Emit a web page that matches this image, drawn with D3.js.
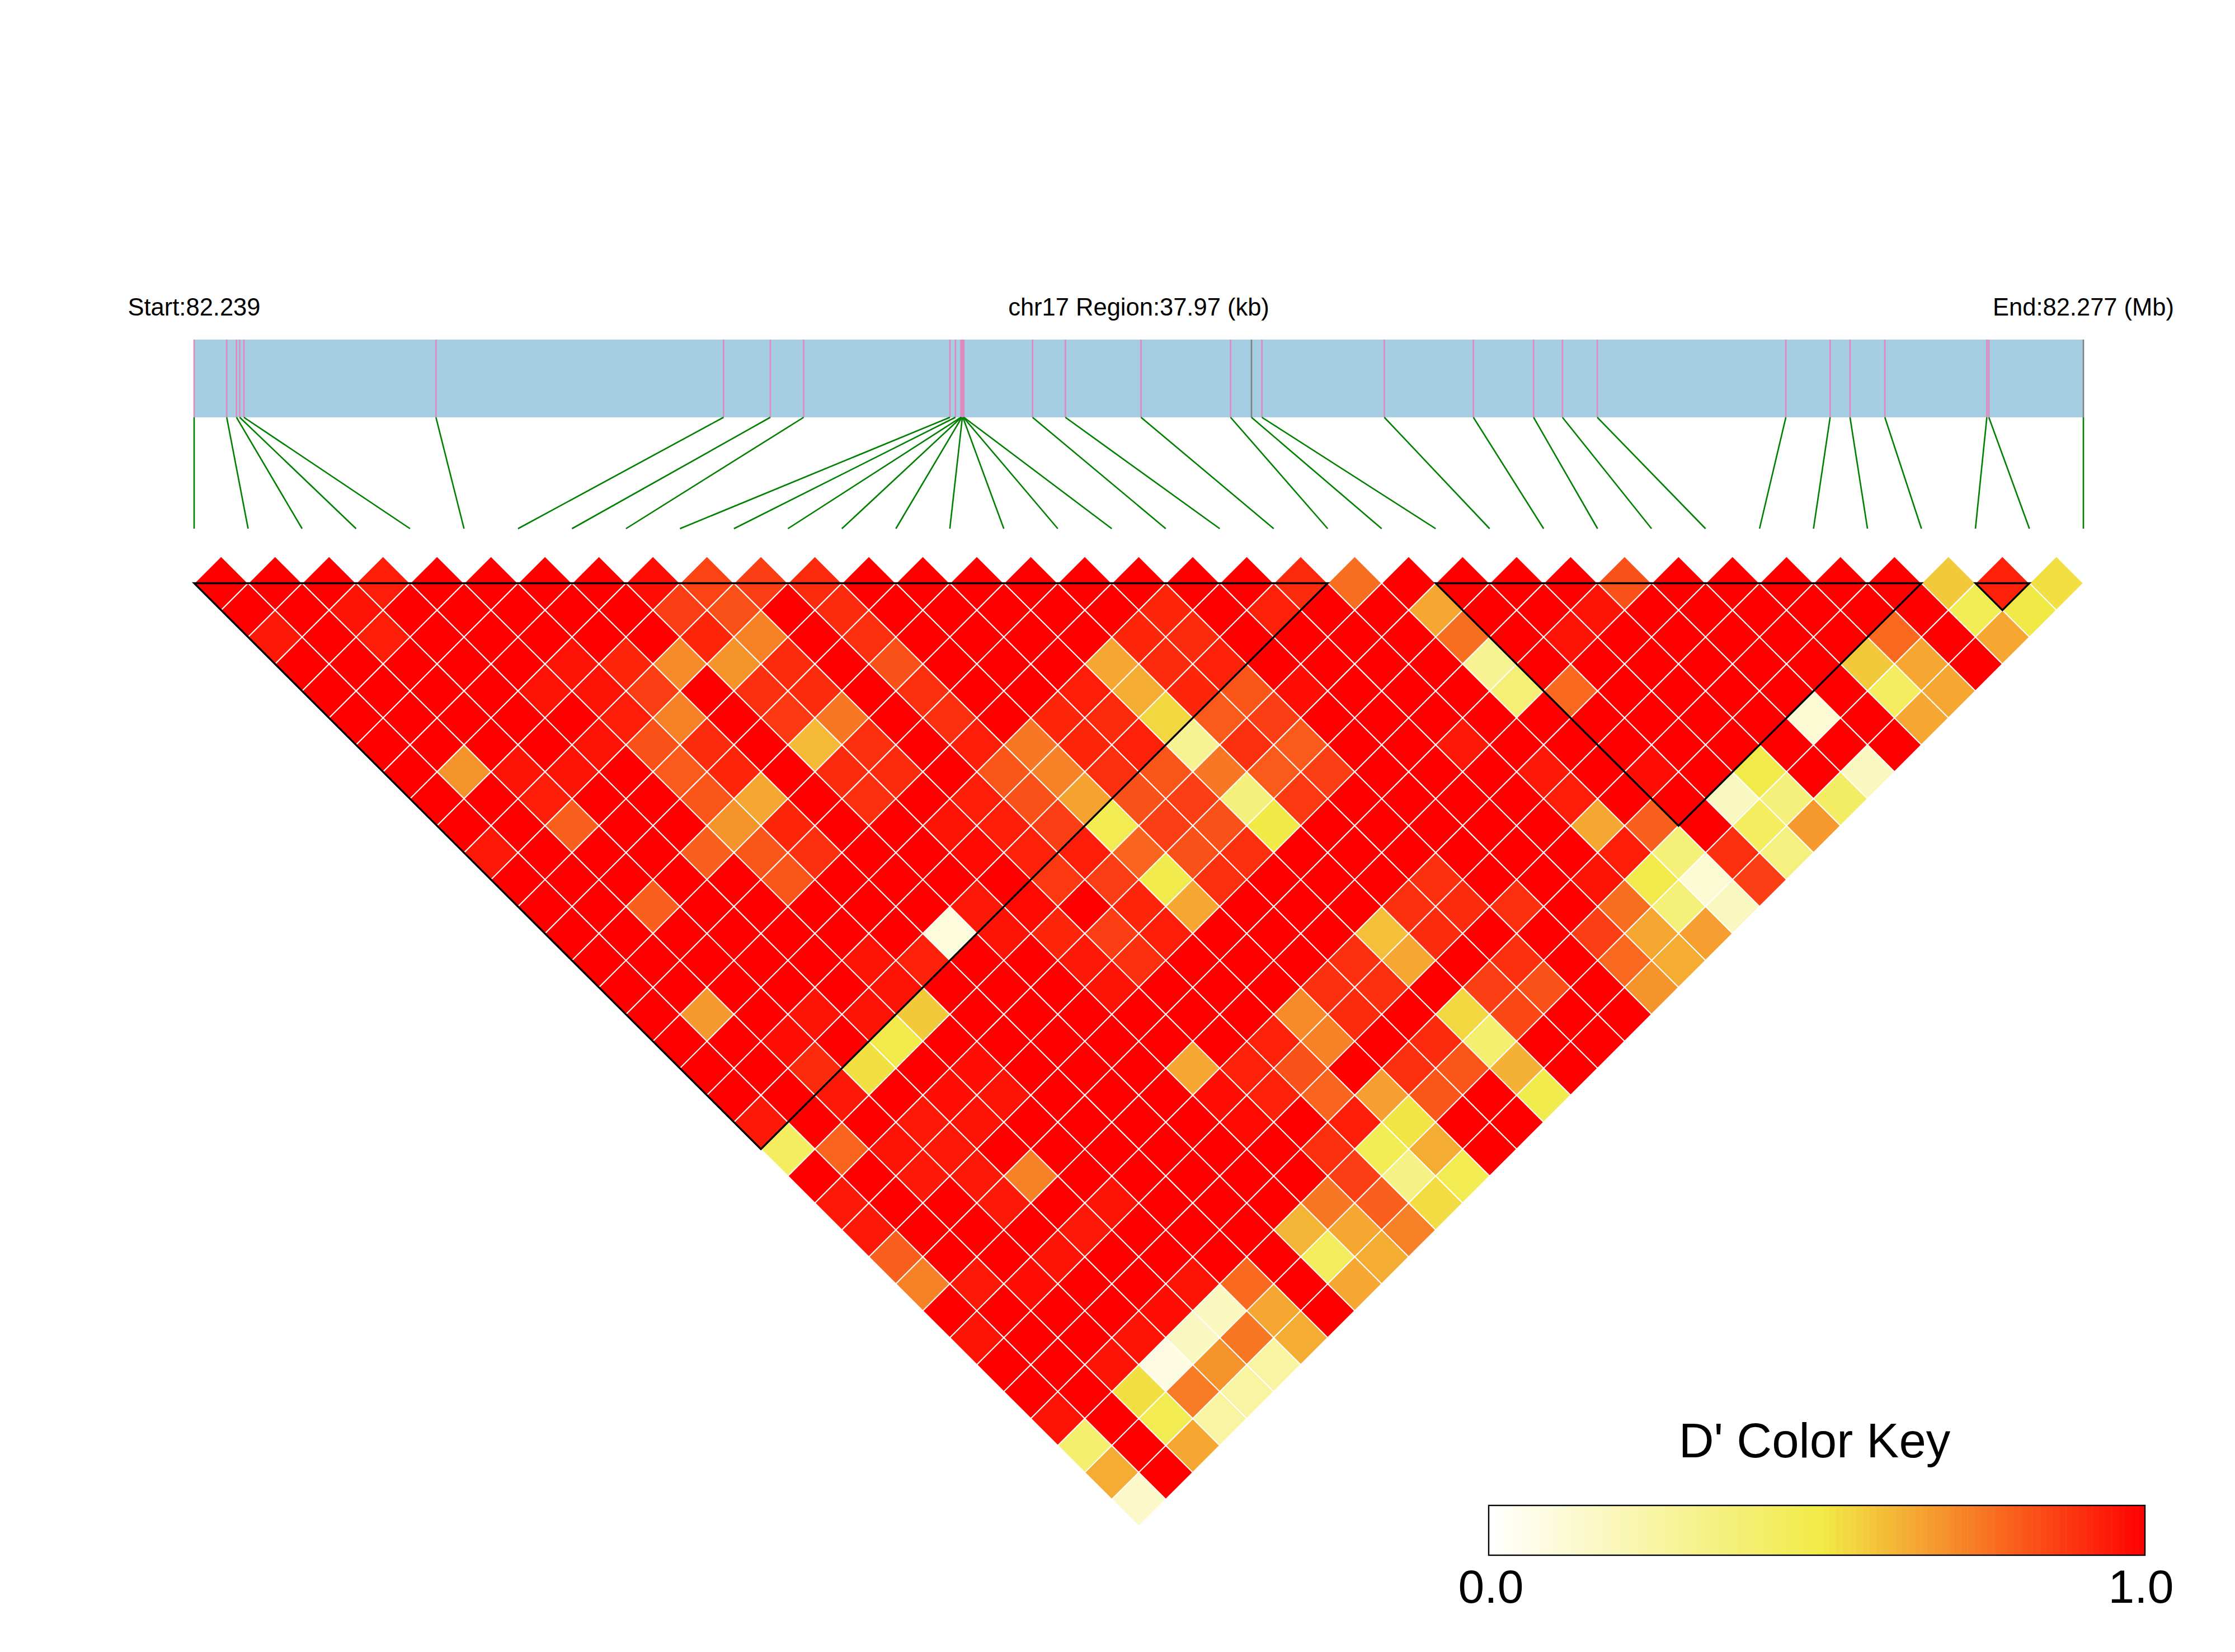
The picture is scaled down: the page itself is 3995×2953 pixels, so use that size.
<!DOCTYPE html>
<html>
<head>
<meta charset="utf-8">
<script src="https://cdn.jsdelivr.net/npm/d3@7"></script>
<style>
    html, body { margin: 0; padding: 0; background: #fff; }
    svg { display: block; }
    text { font-family: "Liberation Sans", Arial, sans-serif; fill: #000; }
</style>
</head>
<body>
<div id="chart"></div>
<script>
const startLabel = 'Start:82.239';
const regionLabel = 'chr17 Region:37.97 (kb)';
const endLabel = 'End:82.277 (Mb)';
const keyTitle = "D' Color Key";
const keyTicks = ['0.0', '1.0'];

// SNP positions in kb from the region start
const snpPos = [0, 0.655, 0.851, 0.916, 1.0, 4.86, 10.64, 11.58, 12.25,
    15.19, 15.30, 15.41, 15.42, 15.43, 15.44, 15.45, 15.46, 15.47,
    16.85, 17.51, 19.03, 20.83, 21.25, 21.46, 23.92, 25.71, 26.92, 27.50,
    28.20, 31.99, 32.88, 33.28, 33.98, 36.03, 36.07, 37.97];
// these two are drawn grey on the gene bar, the rest pink
const greySnps = [22, 35];

// LD blocks as first and last SNP index
const blocks = [[0, 21], [23, 32], [33, 34]];

// D' values: dPrime[d][i] is the pair of SNP i and SNP i + d + 1
const dPrime = [
    [1,1,1,.94,1,1,1,1,.97,.86,.87,.91,1,1,1,1,1,1,1,1,.91,.77,1,1,1,1,.83,1,1,1,1,1,.58,.93,.53],
    [1,1,.96,1,1,1,1,1,.87,.83,1,.91,1,1,1,1,1,.92,1,.93,1,1,.65,1,1,.96,1,1,1,1,1,1,.47,.51],
    [.95,1,.94,1,1,1,1,1,.92,.73,1,.9,1,1,1,1,.92,.91,1,1,1,1,.77,1,.96,1,1,1,1,1,.78,1,.65],
    [1,1,1,1,1,.96,.92,.71,.69,.91,1,.83,1,1,1,.65,.91,.93,1,1,1,1,.3,1,1,1,1,1,1,.58,.65,1],
    [1,1,1,1,.96,.96,.87,1,.9,.91,1,.9,1,1,.94,.64,.92,.82,.97,1,1,1,.38,.78,1,1,1,1,1,.44,.65],
    [1,1,1,1,1,.94,.73,1,.88,.75,1,.9,1,.92,.91,.55,.81,.87,1,1,1,1,1,1,1,1,1,.12,1,.65],
    [1,1,1,1,.96,.83,.91,1,.61,.9,1,.94,.75,.92,.93,.3,.9,.81,1,1,.95,1,1,1,1,1,1,1,1],
    [1,.69,.96,.96,1,.81,.92,1,.91,.91,1,.82,.73,.9,.82,.75,.81,.87,1,1,1,.95,1,.97,1,.5,1,.17],
    [1,1,.94,1,1,.82,.65,1,.9,1,.94,.83,.66,.83,.87,.36,.88,1,1,1,1,.94,1,1,.17,.36,.43],
    [1,1,.8,1,1,.69,.92,1,1,.96,.94,.87,.48,.87,.83,.51,1,1,1,1,1,.65,.8,1,.44,.68],
    [.95,1,1,1,.8,.82,.9,1,1,.98,.93,.94,.79,.83,.9,1,1,1,1,1,1,.94,.37,.9,.35],
    [1,1,1,1,1,.82,1,1,1,1,.88,.87,.49,.9,1,1,1,.9,1,1,.96,.5,.12,.87],
    [1,1,.8,1,1,1,1,1,.95,.98,1,.92,.65,1,1,1,.9,.91,.9,1,.77,.37,.17],
    [1,1,1,1,1,1,1,.1,.96,.92,.87,.94,1,1,1,.6,.91,1,1,.87,.65,.67],
    [1,1,1,1,1,.96,.93,1,1,.95,.9,1,1,1,.9,.65,1,.9,1,.78,.64],
    [1,1,1,1,1,.96,1,1,1,.96,1,1,1,.9,.9,1,.87,.83,1,.69],
    [1,.68,1,.96,.96,.58,1,1,1,1,1,1,.71,.91,1,.55,.85,1,1],
    [1,1,.97,1,.5,1,1,1,1,1,1,.93,.73,1,.91,.4,1,1],
    [1,1,.91,.53,1,.97,1,1,1,.65,.93,.83,1,.9,.82,.63,1],
    [1,1,.95,1,.97,.96,1,1,1,.97,.93,.79,.67,.82,1,.49],
    [.95,1,1,.95,.96,1,1,1,1,.98,1,.94,.52,1,1],
    [.44,.79,.96,.95,1,1,1,1,1,1,.9,.47,.64,1],
    [1,1,.95,.95,.73,1,1,1,1,1,.87,.34,.48],
    [.95,1,1,.95,1,.96,1,1,1,.75,.8,.54],
    [.95,1,1,1,.95,1,1,1,.62,.65,.73],
    [.8,1,1,.96,1,1,1,1,.45,.64],
    [.73,.95,.97,1,1,.96,.78,1,.65],
    [1,1,1,1,.97,.18,.65,1],
    [.96,1,1,.96,.17,.75,.64],
    [1,1,.96,.08,.69,.26],
    [1,1,.53,.74,.26],
    [.96,1,.48,.26],
    [.4,1,.65],
    [.64,1],
    [.15]
];

const width = 3995;
const height = 2953;
const nSnp = snpPos.length;

const posScale = d3.scaleLinear().domain([0, 37.97]).range([347, 3724]);
const indexScale = d3.scaleLinear().domain([0, nSnp - 1]).range([347, 3724]);
const rowScale = d3.scaleLinear().domain([0, nSnp - 1]).range([1042.5, 2728.5]);
const colorScale = d3.scaleLinear()
    .domain([0, 0.51, 1])
    .range(['#ffffff', '#f1ea46', '#ff0000']);

const barTop = 607;
const barBottom = 746;
const linkBottom = 945;

const svg = d3.select('#chart')
    .append('svg')
    .attr('width', width)
    .attr('height', height);

// Header labels
svg.selectAll('text.head')
    .data([
        { label: startLabel, x: posScale(0) },
        { label: regionLabel, x: posScale(37.97 / 2) },
        { label: endLabel, x: posScale(37.97) }
    ])
    .join('text')
    .attr('class', 'head')
    .attr('x', d => d.x)
    .attr('y', 564)
    .attr('text-anchor', 'middle')
    .attr('font-size', 43.5)
    .text(d => d.label);

// Gene bar with SNP ticks
svg.append('rect')
    .attr('x', posScale(0))
    .attr('y', barTop)
    .attr('width', posScale(37.97) - posScale(0))
    .attr('height', barBottom - barTop)
    .attr('fill', '#a6cee3');

svg.append('g')
    .selectAll('line')
    .data(snpPos)
    .join('line')
    .attr('x1', d => posScale(d))
    .attr('x2', d => posScale(d))
    .attr('y1', barTop)
    .attr('y2', barBottom)
    .attr('stroke', (d, i) => greySnps.includes(i) ? '#808080' : '#e088c0')
    .attr('stroke-width', 2.6);

// Links from the bar to the heatmap
svg.append('g')
    .selectAll('line')
    .data(snpPos)
    .join('line')
    .attr('x1', d => posScale(d))
    .attr('x2', (d, i) => indexScale(i))
    .attr('y1', barBottom)
    .attr('y2', linkBottom)
    .attr('stroke', '#008000')
    .attr('stroke-width', 2.6);

// Heatmap cells
const cells = dPrime.flatMap((row, d) => row.map((value, i) => ({ i, d, value })));
const halfW = (indexScale(1) - indexScale(0)) / 2;
const halfH = rowScale(1) - rowScale(0);

svg.append('g')
    .selectAll('path')
    .data(cells)
    .join('path')
    .attr('d', c => {
        const cx = indexScale(c.i + (c.d + 1) / 2);
        const cy = rowScale(c.d);
        return `M${cx},${cy - halfH}L${cx + halfW},${cy}L${cx},${cy + halfH}L${cx - halfW},${cy}Z`;
    })
    .attr('fill', c => colorScale(c.value))
    .attr('stroke', '#fff')
    .attr('stroke-width', 2);

// LD block outlines
svg.append('g')
    .selectAll('path')
    .data(blocks)
    .join('path')
    .attr('d', ([a, b]) => `M${indexScale(a)},${rowScale(0)}L${indexScale(b)},${rowScale(0)}L${indexScale((a + b) / 2)},${rowScale(b - a)}Z`)
    .attr('fill', 'none')
    .attr('stroke', '#000')
    .attr('stroke-width', 3.4);

// Color key
const keyScale = d3.scaleLinear().domain([0, 1]).range([2661, 3834]);
const keySteps = d3.range(0, 100).map(k => k / 100);

svg.append('text')
    .attr('x', keyScale(0.5) - 4)
    .attr('y', 2605)
    .attr('text-anchor', 'middle')
    .attr('font-size', 87)
    .text(keyTitle);

svg.append('g')
    .selectAll('rect')
    .data(keySteps)
    .join('rect')
    .attr('x', d => keyScale(d))
    .attr('y', 2691)
    .attr('width', (keyScale(1) - keyScale(0)) / keySteps.length + 0.5)
    .attr('height', 89)
    .attr('fill', d => colorScale(d + 0.005));

svg.append('rect')
    .attr('x', keyScale(0))
    .attr('y', 2691)
    .attr('width', keyScale(1) - keyScale(0))
    .attr('height', 89)
    .attr('fill', 'none')
    .attr('stroke', '#000')
    .attr('stroke-width', 2.4);

svg.selectAll('text.tick')
    .data(keyTicks)
    .join('text')
    .attr('class', 'tick')
    .attr('x', (d, i) => keyScale(i) + (i ? -7 : 4))
    .attr('y', 2865)
    .attr('text-anchor', 'middle')
    .attr('font-size', 84)
    .text(d => d);
</script>
</body>
</html>
